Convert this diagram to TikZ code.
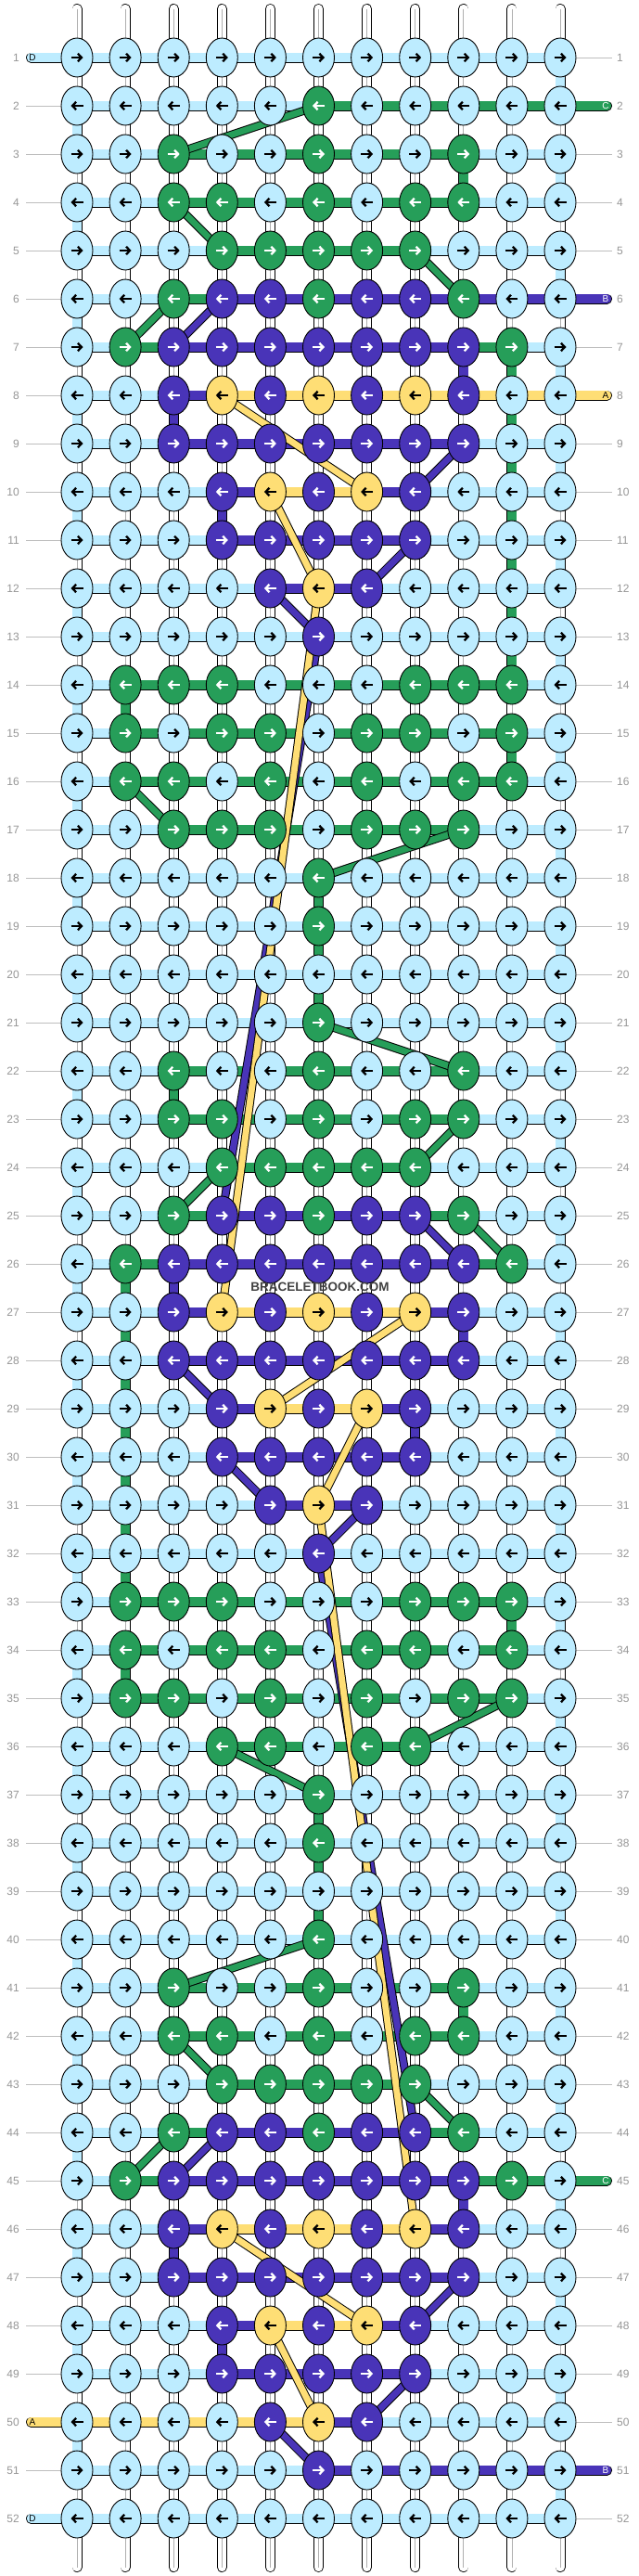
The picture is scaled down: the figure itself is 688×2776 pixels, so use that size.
\documentclass[tikz,border=0pt]{standalone}
\usepackage{fontspec}
\setmainfont{Liberation Sans}
\usetikzlibrary{shapes.geometric,arrows.meta}
\definecolor{cL}{RGB}{189,236,255}
\definecolor{cG}{RGB}{38,158,89}
\definecolor{cP}{RGB}{73,52,184}
\definecolor{cY}{RGB}{254,222,117}
\colorlet{aL}{black}
\colorlet{aG}{white}
\colorlet{aP}{white}
\colorlet{aY}{black}
\definecolor{lblgray}{RGB}{150,150,150}
\definecolor{linegray}{RGB}{190,190,190}
\definecolor{tubegray}{RGB}{175,175,175}
\tikzset{
  knot/.style={ellipse,draw=black,line width=0.9pt,minimum width=34pt,minimum height=42pt,inner sep=0pt,outer sep=0pt},
  arr/.style={line width=2.3pt,-{Straight Barb[length=4pt,width=8.5pt]}},
  lbl/.style={text=lblgray,font=\fontsize{12}{12}\selectfont,inner sep=0pt},
  lblline/.style={draw=linegray,line width=1pt},
  tablet/.style={font=\fontsize{10}{10}\selectfont,inner sep=0pt},
  wmark/.style={font=\bfseries\fontsize{13.5}{13.5}\selectfont,text=black!75,inner sep=0pt}
}
\newcommand\bbxy[2]{\pgfmathsetmacro\xx{83+(#2-1)*52.1}\pgfmathsetmacro\yy{62+(#1-1)*52}}
\newcommand\seg[3]{\draw[line width=11pt,black] #1 -- #2; \draw[line width=9.4pt,#3] #1 -- #2;}
\newcommand\wseg[2]{\draw[line width=11pt,black] #1 -- #2; \draw[line width=9.4pt,white] #1 -- #2; \draw[line width=0.8pt,tubegray] #1 -- #2;}
\newcommand\hrow[2]{\edef\hlist{#2}\foreach \h [count=\i] in \hlist {\pgfmathtruncatemacro\ii{\i+1}\seg{(p-#1-\i)}{(p-#1-\ii)}{c\h}}}
\newcommand\krow[2]{\edef\klist{#2}\foreach \k [count=\c] in \klist {\node[knot,fill=c\k] (k-#1-\c) at (p-#1-\c) {}; \bbxy{#1}{\c}\ifodd#1\relax \draw[arr,draw=a\k] ({\xx-6.5},\yy) -- ({\xx+6.5},\yy); \else \draw[arr,draw=a\k] ({\xx+6.5},\yy) -- ({\xx-6.5},\yy); \fi}}
\newcommand\diag[5]{\draw[line width=9pt,black] (p-#1-#2) -- (p-#3-#4); \draw[line width=7pt,c#5] (p-#1-#2) -- (p-#3-#4);}
\newcommand\ltab[4]{\bbxy{#1}{1}\coordinate (tabl-#1) at (33.5,\yy);
  \draw[line width=11pt,line cap=round,black] (tabl-#1) -- (p-#1-1);
  \draw[line width=9.4pt,line cap=round,c#2] (tabl-#1) -- (p-#1-1);
  \node[tablet,text=#4] (ltl-#1) at (35,\yy) {#3};}
\newcommand\rtab[4]{\bbxy{#1}{11}\coordinate (tabr-#1) at (654.5,\yy);
  \draw[line width=11pt,line cap=round,black] (p-#1-11) -- (tabr-#1);
  \draw[line width=9.4pt,line cap=round,c#2] (p-#1-11) -- (tabr-#1);
  \node[tablet,text=#4] (rtl-#1) at (653,\yy) {#3};}
\def\KRall{L,L,L,L,L,L,L,L,L,L,L}
\def\KRb{L,L,L,L,L,G,L,L,L,L,L}
\def\KRc{L,L,G,L,L,G,L,L,G,L,L}
\def\KRd{L,L,G,G,L,G,L,G,G,L,L}
\def\KRe{L,L,L,G,G,G,G,G,L,L,L}
\def\KRf{L,L,G,P,P,G,P,P,G,L,L}
\def\KRg{L,G,P,P,P,P,P,P,P,G,L}
\def\KRh{L,L,P,Y,P,Y,P,Y,P,L,L}
\def\KRi{L,L,P,P,P,P,P,P,P,L,L}
\def\KRj{L,L,L,P,Y,P,Y,P,L,L,L}
\def\KRk{L,L,L,P,P,P,P,P,L,L,L}
\def\KRl{L,L,L,L,P,Y,P,L,L,L,L}
\def\KRm{L,L,L,L,L,P,L,L,L,L,L}
\def\KRn{L,G,G,G,L,L,L,G,G,G,L}
\def\KRo{L,G,L,G,G,L,G,G,L,G,L}
\def\KRp{L,G,G,L,G,L,G,L,G,G,L}
\def\KRq{L,L,G,G,G,L,G,G,G,L,L}
\def\KRs{L,L,L,G,G,L,G,G,L,L,L}
\def\HRall{L,L,L,L,L,L,L,L,L,L}
\def\HRb{L,L,L,L,L,G,G,G,G,G}
\def\HRc{L,L,G,G,G,G,G,G,L,L}
\def\HRe{L,L,L,G,G,G,G,L,L,L}
\def\HRf{L,L,G,P,P,P,P,P,P,P}
\def\HRg{L,G,P,P,P,P,P,P,G,L}
\def\HRh{L,L,P,Y,Y,Y,Y,Y,Y,Y}
\def\HRi{L,L,P,P,P,P,P,P,L,L}
\def\HRj{L,L,L,P,Y,Y,P,L,L,L}
\def\HRk{L,L,L,P,P,P,P,L,L,L}
\def\HRl{L,L,L,L,P,P,L,L,L,L}
\def\HRn{L,G,G,G,G,G,G,G,G,L}
\def\HRy{L,L,G,P,P,P,P,G,L,L}
\def\HRz{L,L,P,Y,Y,Y,Y,P,L,L}
\def\HRw{L,G,P,P,P,P,P,P,G,G}
\def\HRu{Y,Y,Y,Y,Y,P,L,L,L,L}
\def\HRv{L,L,L,L,L,P,P,P,P,P}
\begin{document}
\begin{tikzpicture}[x=1pt,y=-1pt]
\useasboundingbox (0,0) rectangle (688,2776);
\fill[white] (0,0) rectangle (688,2776);
\foreach \r in {1,...,52}{\foreach \c in {1,...,11}{\bbxy{\r}{\c}\coordinate (p-\r-\c) at (\xx,\yy);}}
\foreach \c in {1,...,11}{\bbxy{1}{\c}\coordinate (top-\c) at (\xx,9.5); \coordinate (bot-\c) at (\xx,2766.5);}
% row labels
\foreach \r in {1,...,52}{\bbxy{\r}{1}
  \draw[lblline] (28,\yy) -- (70,\yy);
  \draw[lblline] (618,\yy) -- (660,\yy);
  \node[lbl,anchor=east] (ll-\r) at (21,\yy) {\r};
  \node[lbl,anchor=west] (rl-\r) at (665,\yy) {\r};}
% warp strings top and bottom
\foreach \c in {1,...,11}{
  \draw[line width=11pt,line cap=round,black] (top-\c) -- (p-1-\c);
  \draw[line width=9.4pt,line cap=round,white] (top-\c) -- (p-1-\c);
  \draw[line width=0.8pt,tubegray] (top-\c) -- (p-1-\c);
  \draw[line width=11pt,line cap=round,black] (p-52-\c) -- (bot-\c);
  \draw[line width=9.4pt,line cap=round,white] (p-52-\c) -- (bot-\c);
  \draw[line width=0.8pt,tubegray] (p-52-\c) -- (bot-\c);}
% vertical white segments
\foreach \r in {1,...,51}{\pgfmathtruncatemacro\rn{\r+1}\foreach \c in {1,...,11}{\wseg{(p-\r-\c)}{(p-\rn-\c)}}}
% light blue turns at edges
\foreach \r in {1,...,51}{\pgfmathtruncatemacro\rn{\r+1}\pgfmathtruncatemacro\cc{ifthenelse(mod(\r,2)==1,11,1)}\seg{(p-\r-\cc)}{(p-\rn-\cc)}{cL}}
% coloured vertical segments
\foreach \r/\c/\k in {3/9/G,7/9/P,7/10/G,8/3/P,8/10/G,9/10/G,10/10/G,10/4/P,11/10/G,12/10/G,13/10/G,14/2/G,15/10/G,18/6/G,19/6/G,20/6/G,22/3/G,26/2/G,26/3/P,27/2/G,27/9/P,28/2/G,29/2/G,29/8/P,30/2/G,31/2/G,32/2/G,33/10/G,34/2/G,37/6/G,38/6/G,39/6/G,41/9/G,45/9/P,46/3/P,48/4/P}{\pgfmathtruncatemacro\rn{\r+1}\seg{(p-\r-\c)}{(p-\rn-\c)}{c\k}}
% horizontal segments
\foreach \r/\hl in {1/\HRall,2/\HRb,3/\HRc,4/\HRc,5/\HRe,6/\HRf,7/\HRg,8/\HRh,9/\HRi,10/\HRj,11/\HRk,12/\HRl,13/\HRall,14/\HRn,15/\HRn,16/\HRn,17/\HRc,18/\HRall,19/\HRall,20/\HRall,21/\HRall,22/\HRc,23/\HRc,24/\HRe,25/\HRy,26/\HRg,27/\HRz,28/\HRi,29/\HRj,30/\HRk,31/\HRl,32/\HRall,33/\HRn,34/\HRn,35/\HRn,36/\HRe,37/\HRall,38/\HRall,39/\HRall,40/\HRall,41/\HRc,42/\HRc,43/\HRe,44/\HRy,45/\HRw,46/\HRz,47/\HRi,48/\HRj,49/\HRk,50/\HRu,51/\HRv,52/\HRall}{\hrow{\r}{\hl}}
% thread ends
\ltab{1}{L}{D}{black}
\ltab{50}{Y}{A}{black}
\ltab{52}{L}{D}{black}
\rtab{2}{G}{C}{white}
\rtab{6}{P}{B}{white}
\rtab{8}{Y}{A}{black}
\rtab{45}{G}{C}{white}
\rtab{51}{P}{B}{white}
% carried threads
\diag{2}{6}{3}{3}{G}
\diag{4}{3}{5}{4}{G}
\diag{5}{8}{6}{9}{G}
\diag{6}{3}{7}{2}{G}
\diag{6}{4}{7}{3}{P}
\diag{8}{4}{10}{7}{Y}
\diag{9}{9}{10}{8}{P}
\diag{10}{5}{12}{6}{Y}
\diag{11}{8}{12}{7}{P}
\diag{12}{5}{13}{6}{P}
\diag{16}{2}{17}{3}{G}
\diag{17}{9}{18}{6}{G}
\diag{21}{6}{22}{9}{G}
\diag{13}{6}{25}{4}{P}
\diag{12}{6}{27}{4}{Y}
\diag{23}{9}{24}{8}{G}
\diag{24}{4}{25}{3}{G}
\diag{25}{8}{26}{9}{P}
\diag{25}{9}{26}{10}{G}
\diag{27}{8}{29}{5}{Y}
\diag{28}{3}{29}{4}{P}
\diag{29}{7}{31}{6}{Y}
\diag{30}{4}{31}{5}{P}
\diag{31}{7}{32}{6}{P}
\diag{35}{10}{36}{8}{G}
\diag{36}{4}{37}{6}{G}
\diag{32}{6}{44}{8}{P}
\diag{31}{6}{46}{8}{Y}
\diag{40}{6}{41}{3}{G}
\diag{42}{3}{43}{4}{G}
\diag{43}{8}{44}{9}{G}
\diag{44}{3}{45}{2}{G}
\diag{44}{4}{45}{3}{P}
\diag{46}{4}{48}{7}{Y}
\diag{47}{9}{48}{8}{P}
\diag{48}{5}{50}{6}{Y}
\diag{49}{8}{50}{7}{P}
\diag{50}{5}{51}{6}{P}
% knots
\foreach \r/\kl in {1/\KRall,2/\KRb,3/\KRc,4/\KRd,5/\KRe,6/\KRf,7/\KRg,8/\KRh,9/\KRi,10/\KRj,11/\KRk,12/\KRl,13/\KRm,14/\KRn,15/\KRo,16/\KRp,17/\KRq,18/\KRb,19/\KRb,20/\KRall,21/\KRb,22/\KRc,23/\KRd,24/\KRe,25/\KRf,26/\KRg,27/\KRh,28/\KRi,29/\KRj,30/\KRk,31/\KRl,32/\KRm,33/\KRn,34/\KRo,35/\KRp,36/\KRs,37/\KRb,38/\KRb,39/\KRall,40/\KRb,41/\KRc,42/\KRd,43/\KRe,44/\KRf,45/\KRg,46/\KRh,47/\KRi,48/\KRj,49/\KRk,50/\KRl,51/\KRm,52/\KRall}{\krow{\r}{\kl}}
\node[wmark] (wm) at (345,1387) {BRACELETBOOK.COM};
\end{tikzpicture}
\end{document}
